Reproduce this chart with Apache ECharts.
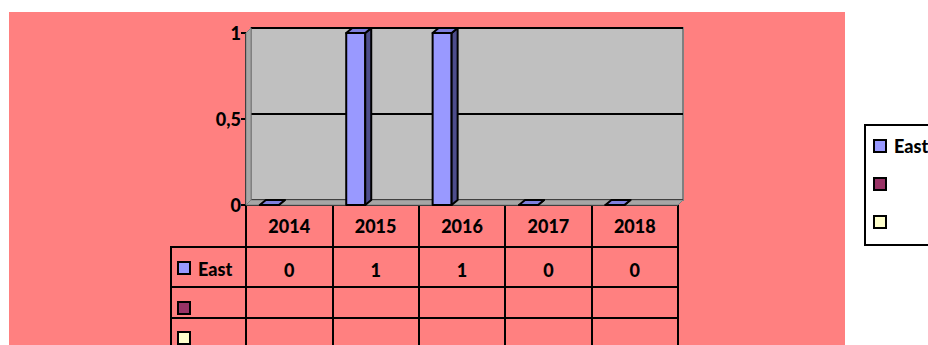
<!DOCTYPE html>
<html>
<head>
<meta charset="utf-8">
<script src="https://cdn.jsdelivr.net/npm/echarts@6/dist/echarts.min.js"></script>
<style>
  html, body { margin: 0; padding: 0; background: #fff; }
  #chart { width: 928px; height: 345px; }
</style>
</head>
<body>
<div id="chart"></div>
<script>
var years = ['2014', '2015', '2016', '2017', '2018'];
var eastValues = [0, 1, 1, 0, 0];
var seriesNames = ['East', ' ', '  '];
var seriesColors = ['#9999FF', '#993366', '#FFFFCC'];
var yTicks = [0, 0.5, 1];

// plot box of the front plane, in px
var L = 246, R = 678, T = 33, B = 205;
var DX = 5, DY = -5;   // depth of the back wall
var FONT = 'Lato';
var WEIGHT = 900;

function renderBar(params, api) {
    var base = api.coord([api.value(0), 0]);
    var top = api.coord([api.value(0), api.value(1)]);
    var bw = api.size([1, 0])[0];
    var x0 = base[0] - bw * 0.34;
    var w = bw * 0.22;
    var dx = 6, dy = -5;
    var st = { stroke: '#000', lineWidth: 2, lineJoin: 'round' };
    return {
        type: 'group',
        children: [{
            type: 'rect',
            shape: { x: x0, y: top[1], width: w, height: base[1] - top[1] },
            style: Object.assign({ fill: '#9999FF' }, st)
        }, {
            type: 'polygon',
            shape: { points: [[x0 + w, top[1]], [x0 + w + dx, top[1] + dy], [x0 + w + dx, base[1] + dy], [x0 + w, base[1]]] },
            style: Object.assign({ fill: '#4D4D8C' }, st)
        }, {
            type: 'polygon',
            shape: { points: [[x0, top[1]], [x0 + dx, top[1] + dy], [x0 + w + dx, top[1] + dy], [x0 + w, top[1]]] },
            style: Object.assign({ fill: '#7F7FDD' }, st)
        }]
    };
}

var txt = { fontFamily: FONT, fontWeight: WEIGHT, fontSize: 18, color: '#000' };

var graphics = [
    // pink chart area
    { type: 'rect', z: -10, shape: { x: 9, y: 12, width: 836, height: 345 }, style: { fill: '#FF8080' } },
    // side wall
    { type: 'polygon', z: 1, shape: { points: [[L, T], [L + DX, T + DY], [L + DX, B + DY], [L, B]] },
      style: { fill: '#A6A6A6', stroke: '#808080', lineWidth: 1 } },
    // floor
    { type: 'polygon', z: 1, shape: { points: [[L, B], [L + DX, B + DY], [R + DX, B + DY], [R, B]] },
      style: { fill: '#A6A6A6', stroke: '#808080', lineWidth: 1 } },
    // table lines
    { type: 'line', z: 3, shape: { x1: 171, y1: 247, x2: R, y2: 247 }, style: { stroke: '#000', lineWidth: 2 } },
    { type: 'line', z: 3, shape: { x1: 171, y1: 287, x2: R, y2: 287 }, style: { stroke: '#000', lineWidth: 2 } },
    { type: 'line', z: 3, shape: { x1: 171, y1: 318, x2: R, y2: 318 }, style: { stroke: '#000', lineWidth: 2 } },
    { type: 'line', z: 3, shape: { x1: 171, y1: 246, x2: 171, y2: 345 }, style: { stroke: '#000', lineWidth: 2 } }
];
// row keys of the data table
var keyY = [262, 302, 332];
seriesNames.forEach(function (name, i) {
    graphics.push({ type: 'rect', z: 3, shape: { x: 178, y: keyY[i], width: 12, height: 12 },
        style: { fill: seriesColors[i], stroke: '#000', lineWidth: 2 } });
    if (name.trim()) {
        graphics.push({ type: 'text', z: 3, x: 198, y: keyY[i] + 7,
            style: { text: name, verticalAlign: 'middle', fill: '#000',
                font: WEIGHT + ' 18px ' + FONT } });
    }
});

var option = {
    backgroundColor: '#fff',
    animation: false,
    textStyle: { fontFamily: FONT },
    legend: {
        orient: 'vertical',
        left: 865, top: 125,
        padding: [12, 40, 14, 8],
        backgroundColor: '#fff',
        borderColor: '#000',
        borderWidth: 2,
        borderRadius: 0,
        itemWidth: 12, itemHeight: 12, itemGap: 20,
        itemStyle: { borderColor: '#000', borderWidth: 2 },
        textStyle: { fontFamily: FONT, fontWeight: WEIGHT, fontSize: 18, lineHeight: 14,
            color: '#000', padding: [0, 0, 0, 3] },
        data: seriesNames.map(function (n) { return { name: n, icon: 'rect' }; })
    },
    grid: [
        { left: L, right: 928 - R, top: T, bottom: 345 - B },
        { left: L + DX, right: 928 - R - DX, top: T + DY, bottom: 345 - B - DY,
          show: true, backgroundColor: '#C0C0C0', borderColor: '#808080', borderWidth: 2 }
    ],
    xAxis: [{
        type: 'category', gridIndex: 0, data: years,
        axisLine: { show: true, lineStyle: { color: '#000', width: 2 } },
        axisTick: { show: true, alignWithLabel: false, interval: 0, inside: false, length: 140,
            lineStyle: { color: '#000', width: 2 } },
        axisLabel: Object.assign({ margin: 12, interval: 0 }, txt)
    }, {
        type: 'category', gridIndex: 1, data: years, show: false
    }, {
        type: 'category', gridIndex: 0, data: eastValues.map(String),
        position: 'bottom', offset: 42,
        axisLine: { show: false }, axisTick: { show: false },
        axisLabel: Object.assign({ margin: 14, interval: 0 }, txt)
    }],
    yAxis: [{
        type: 'value', gridIndex: 0, min: 0, max: 1, interval: 0.5,
        axisLine: { show: true, lineStyle: { color: '#000', width: 2 } },
        axisTick: { show: true, length: 5, lineStyle: { color: '#000', width: 2 } },
        splitLine: { show: false },
        axisLabel: Object.assign({ margin: 5, formatter: function (v) {
            return yTicks.indexOf(v) >= 0 ? String(v).replace('.', ',') : '';
        } }, txt)
    }, {
        type: 'value', gridIndex: 1, min: 0, max: 1, interval: 0.5,
        axisLine: { show: false }, axisTick: { show: false }, axisLabel: { show: false },
        splitLine: { show: true, lineStyle: { color: '#000', width: 2 } }
    }],
    graphic: graphics,
    series: [{
        name: seriesNames[0], type: 'custom', z: 5,
        xAxisIndex: 0, yAxisIndex: 0,
        itemStyle: { color: seriesColors[0] },
        renderItem: renderBar,
        data: eastValues.map(function (v, i) { return [i, v]; })
    }, {
        name: seriesNames[1], type: 'bar', data: [],
        itemStyle: { color: seriesColors[1] }
    }, {
        name: seriesNames[2], type: 'bar', data: [],
        itemStyle: { color: seriesColors[2] }
    }]
};

var chart = echarts.init(document.getElementById('chart'), null, { renderer: 'svg' });
chart.setOption(option);
</script>
</body>
</html>
